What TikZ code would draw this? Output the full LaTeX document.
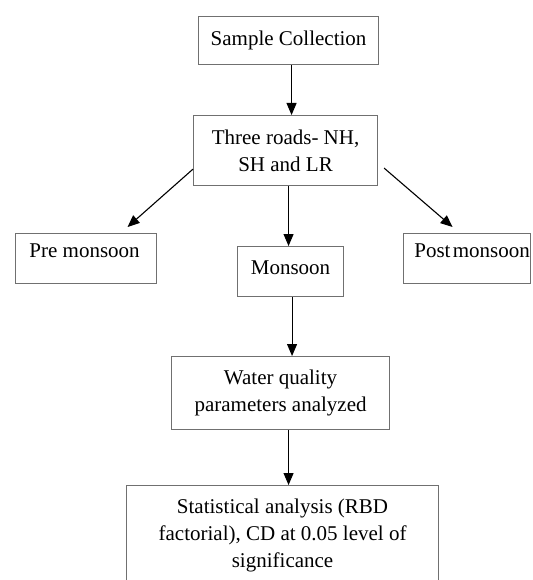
\documentclass[tikz,border=0pt]{standalone}
\usepackage{fontspec}
\setmainfont{Liberation Serif}
\usetikzlibrary{arrows.meta}
\definecolor{boxgray}{RGB}{112,112,112}
\tikzset{
  box/.style={draw=boxgray, line width=1.1bp, rectangle, inner sep=0pt, anchor=north west,
    align=center, font=\fontsize{21bp}{27bp}\selectfont},
  arr/.style={draw=black, line width=1.1bp, -{Triangle[length=12bp,width=10bp]}}
}
\begin{document}
\begin{tikzpicture}[x=1bp,y=-1bp]
\useasboundingbox (0,0) rectangle (533,580);
\clip (0,0) rectangle (533,580);
\fill[white] (0,0) rectangle (533,580);
\node[box, minimum width=180bp, minimum height=48bp] (sc) at (198,16) {Sample Collection\strut};
\node[box, minimum width=184bp, minimum height=70bp] (tr) at (193,115) {Three roads- NH,\\SH and LR};
\node[box, minimum width=141bp, minimum height=50bp, text height=15bp, text depth=17bp] (pre) at (15,233) {\hspace*{-3bp}Pre monsoon};
\node[box, minimum width=106bp, minimum height=50bp, text height=15bp, text depth=9bp] (mon) at (237,246) {Monsoon};
\node[box, minimum width=127bp, minimum height=50bp, text height=15bp, text depth=17bp] (post) at (403,233) {\hspace*{10bp}Post\hspace{-3bp} monsoon};
\node[box, minimum width=218bp, minimum height=73bp] (wq) at (171,356) {Water quality\\parameters analyzed};
\node[box, minimum width=312bp, minimum height=100bp] (st) at (126,485) {Statistical analysis (RBD\\factorial), CD at 0.05 level of\\significance};
\draw[arr] ([xshift=3bp]sc.south) -- ([xshift=3bp]sc.south |- tr.north);
\draw[arr] ([yshift=17bp]tr.south west) -- ([xshift=41.5bp,yshift=6bp]pre.north);
\draw[arr] ([xshift=6bp,yshift=18bp]tr.south east) -- ([xshift=-14.5bp,yshift=6bp]post.north);
\draw[arr] ([xshift=3bp]tr.south) -- ([xshift=3bp]tr.south |- mon.north);
\draw[arr] ([xshift=1.5bp]mon.south) -- ([xshift=1.5bp]mon.south |- wq.north);
\draw[arr] ([xshift=8bp]wq.south) -- ([xshift=8bp]wq.south |- st.north);
\end{tikzpicture}
\end{document}
